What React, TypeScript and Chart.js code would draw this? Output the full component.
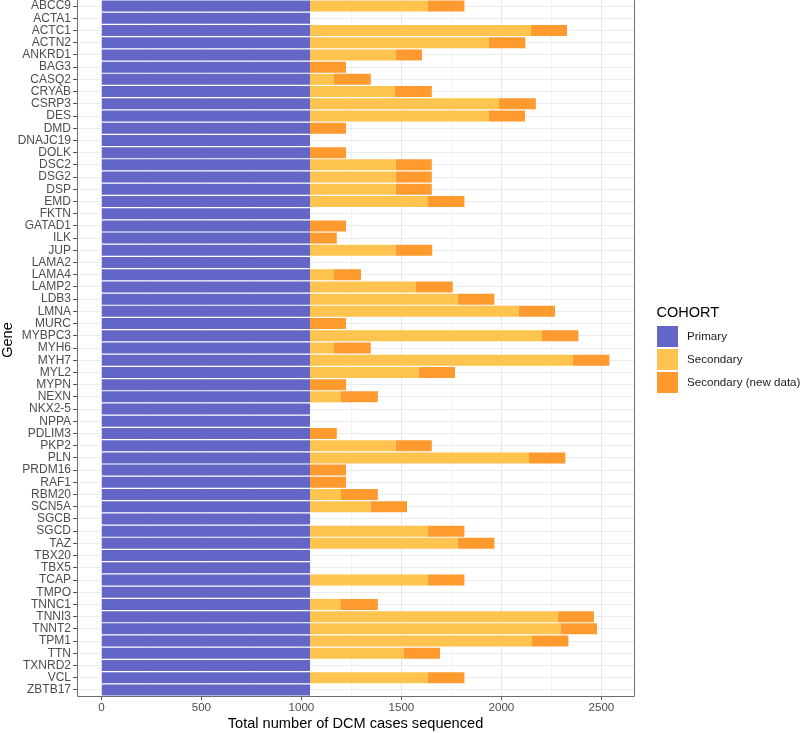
import React, { useEffect, useRef } from "react";
import { Chart, registerables } from "chart.js";

Chart.register(...registerables);

const genes = [
  "ABCC9", "ACTA1", "ACTC1", "ACTN2", "ANKRD1", "BAG3", "CASQ2", "CRYAB", "CSRP3", "DES",
  "DMD", "DNAJC19", "DOLK", "DSC2", "DSG2", "DSP", "EMD", "FKTN", "GATAD1", "ILK",
  "JUP", "LAMA2", "LAMA4", "LAMP2", "LDB3", "LMNA", "MURC", "MYBPC3", "MYH6", "MYH7",
  "MYL2", "MYPN", "NEXN", "NKX2-5", "NPPA", "PDLIM3", "PKP2", "PLN", "PRDM16", "RAF1",
  "RBM20", "SCN5A", "SGCB", "SGCD", "TAZ", "TBX20", "TBX5", "TCAP", "TMPO", "TNNC1",
  "TNNI3", "TNNT2", "TPM1", "TTN", "TXNRD2", "VCL", "ZBTB17",
];

const primary = [
  1043, 1043, 1043, 1043, 1043, 1043, 1043, 1043, 1043, 1043,
  1043, 1043, 1043, 1043, 1043, 1043, 1043, 1043, 1043, 1043,
  1043, 1043, 1043, 1043, 1043, 1043, 1043, 1043, 1043, 1043,
  1043, 1043, 1043, 1043, 1043, 1043, 1043, 1043, 1043, 1043,
  1043, 1043, 1043, 1043, 1043, 1043, 1043, 1043, 1043, 1043,
  1043, 1043, 1043, 1043, 1043, 1043, 1043,
];

const secondary = [
  590, 0, 1104, 895, 427, 0, 120, 425, 945, 895,
  0, 0, 0, 429, 429, 429, 590, 0, 0, 0,
  427, 0, 120, 530, 739, 1042, 0, 1160, 120, 1315,
  544, 0, 155, 0, 0, 0, 429, 1095, 0, 0,
  155, 304, 0, 590, 739, 0, 0, 590, 0, 155,
  1239, 1252, 1110, 467, 0, 590, 0,
];

const secondaryNew = [
  182, 0, 181, 182, 133, 180, 184, 184, 184, 180,
  180, 0, 180, 180, 180, 180, 182, 0, 180, 134,
  184, 0, 135, 184, 183, 183, 180, 182, 184, 182,
  181, 180, 184, 0, 0, 134, 180, 182, 180, 180,
  184, 181, 0, 182, 183, 0, 0, 182, 0, 184,
  181, 183, 182, 183, 0, 182, 0,
];

const xTicks = [0, 250, 500, 750, 1000, 1250, 1500, 1750, 2000, 2250, 2500];
const majorTicks = [0, 500, 1000, 1500, 2000, 2500];

const seriesNames = ["Primary", "Secondary", "Secondary (new data)"];
const seriesColors = ["#6366C6", "#FFC34F", "#FF9A2E"];

const FONT = "'Liberation Sans', Arial, sans-serif";

export default function App() {
  const ref = useRef<HTMLCanvasElement | null>(null);

  useEffect(() => {
    if (!ref.current) return;

    const overlay = {
      id: "overlay",
      afterDatasetsDraw(chart: any) {
        const { ctx, chartArea } = chart;
        ctx.save();
        ctx.strokeStyle = "#6E6E6E";
        ctx.lineWidth = 1;
        ctx.beginPath();
        ctx.moveTo(Math.round(chartArea.left) + 0.5, chartArea.top);
        ctx.lineTo(Math.round(chartArea.left) + 0.5, Math.round(chartArea.bottom) + 0.5);
        ctx.lineTo(Math.round(chartArea.right) + 0.5, Math.round(chartArea.bottom) + 0.5);
        ctx.lineTo(Math.round(chartArea.right) + 0.5, chartArea.top);
        ctx.stroke();
        ctx.restore();
      },
      afterDraw(chart: any) {
        const { ctx, chartArea } = chart;
        ctx.save();
        // y-axis title
        ctx.translate(7.5, 340);
        ctx.rotate(-Math.PI / 2);
        ctx.fillStyle = "#000";
        ctx.font = `14.6px ${FONT}`;
        ctx.textAlign = "center";
        ctx.textBaseline = "middle";
        ctx.fillText("Gene", 0, 0);
        ctx.restore();

        // legend
        ctx.save();
        const lx = chartArea.right + 23;
        ctx.fillStyle = "#000";
        ctx.font = `14.5px ${FONT}`;
        ctx.textAlign = "left";
        ctx.textBaseline = "alphabetic";
        ctx.fillText("COHORT", lx - 0.5, 316.5);
        chart.data.datasets.forEach((ds: any, i: number) => {
          const y = 326 + i * 23;
          ctx.fillStyle = ds.backgroundColor;
          ctx.fillRect(lx, y, 21, 21);
          ctx.fillStyle = "#1A1A1A";
          ctx.font = `11.6px ${FONT}`;
          ctx.textBaseline = "middle";
          ctx.fillText(ds.label, lx + 30, y + 10.5);
        });
        ctx.restore();
      },
    };

    const chart = new Chart(ref.current, {
      type: "bar",
      data: {
        labels: genes,
        datasets: [
          { label: seriesNames[0], data: primary, backgroundColor: seriesColors[0] },
          { label: seriesNames[1], data: secondary, backgroundColor: seriesColors[1] },
          { label: seriesNames[2], data: secondaryNew, backgroundColor: seriesColors[2] },
        ],
      },
      options: {
        indexAxis: "y",
        responsive: false,
        animation: false,
        layout: { padding: { left: 0, right: 166, top: 0, bottom: 0 } },
        datasets: {
          bar: { barPercentage: 0.9, categoryPercentage: 1.0, borderWidth: 0 },
        },
        plugins: {
          legend: { display: false },
          tooltip: { enabled: false },
          title: { display: false },
        },
        scales: {
          x: {
            type: "linear",
            stacked: true,
            min: -122,
            max: 2663,
            afterBuildTicks: (scale: any) => {
              scale.ticks = xTicks.map((v) => ({ value: v }));
            },
            afterFit: (scale: any) => {
              scale.height = 37;
              scale.paddingLeft = 0;
              scale.paddingRight = 0;
            },
            border: { display: false },
            grid: {
              color: (c: any) =>
                majorTicks.includes(c.tick?.value) ? "#E6E6E6" : "#F3F3F3",
              tickColor: (c: any) =>
                majorTicks.includes(c.tick?.value) ? "#555555" : "rgba(0,0,0,0)",
              tickLength: 4,
              drawTicks: true,
            },
            ticks: {
              padding: 1,
              color: "#4D4D4D",
              font: { family: FONT, size: 11.6 },
              maxRotation: 0,
              autoSkip: false,
              callback: (v: any) => (majorTicks.includes(Number(v)) ? String(v) : ""),
            },
            title: {
              display: true,
              text: "Total number of DCM cases sequenced",
              color: "#000",
              font: { family: FONT, size: 14.6, lineHeight: 1.2 },
              padding: { top: 0, bottom: 0 },
            },
          },
          y: {
            type: "category",
            stacked: true,
            afterFit: (scale: any) => {
              scale.width = 77;
              scale.paddingTop = 0;
              scale.paddingBottom = 0;
            },
            border: { display: false },
            grid: {
              offset: false,
              color: "#EBEBEB",
              tickColor: "#555555",
              tickLength: 4,
              drawTicks: true,
            },
            ticks: {
              padding: 2,
              color: "#4D4D4D",
              font: { family: FONT, size: 12 },
              autoSkip: false,
            },
          },
        },
      },
      plugins: [overlay],
    });

    return () => chart.destroy();
  }, []);

  return (
    <div style={{ position: "fixed", left: 0, top: 0, width: 800, height: 733, background: "#fff" }}>
      <canvas ref={ref} width={800} height={733} />
    </div>
  );
}
